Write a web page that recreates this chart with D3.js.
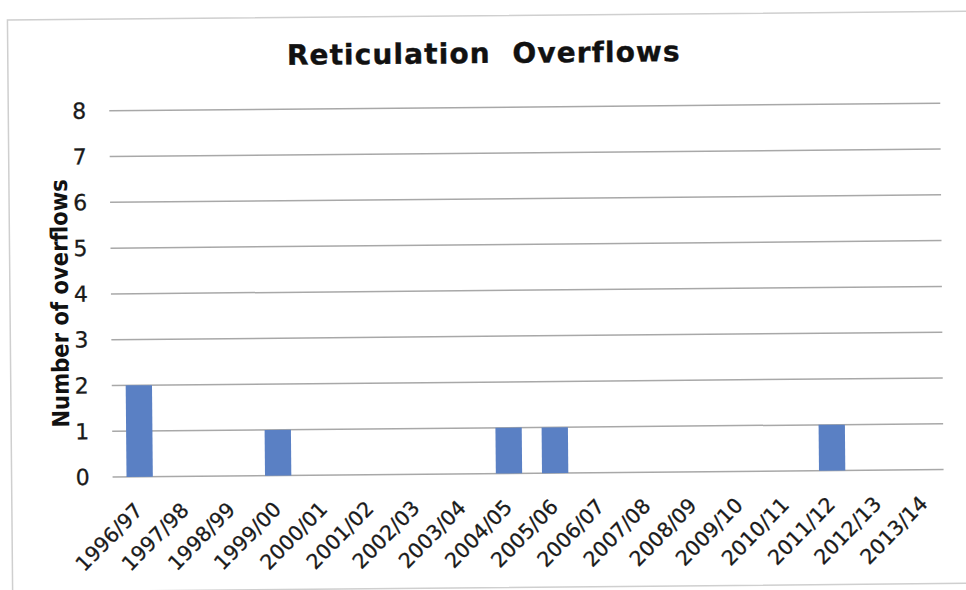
<!DOCTYPE html>
<html>
<head>
<meta charset="utf-8">
<script src="https://cdn.jsdelivr.net/npm/d3@7"></script>
<style>
  html, body { margin: 0; padding: 0; background: #fff; }
  svg { display: block; }
</style>
</head>
<body>
<svg id="chart" width="966" height="590"></svg>
<script>
// Financial years and the number of reticulation overflows recorded in each
const years = ["1996/97","1997/98","1998/99","1999/00","2000/01","2001/02","2002/03","2003/04",
  "2004/05","2005/06","2006/07","2007/08","2008/09","2009/10","2010/11","2011/12","2012/13","2013/14"];
const overflows = [2,0,0,1,0,0,0,0,1,1,0,0,0,0,0,1,0,0];
const yTicks = [0,1,2,3,4,5,6,7,8];

const FONT = "DejaVu Sans, Verdana, sans-serif";
const plot = {left: 115, right: 946, gridLeft: 111, gridRight: 942, top: 107.4, bottom: 473.7};

const svg = d3.select("#chart");
// the whole sheet sits turned a fraction of a degree
const g = svg.append("g").attr("transform", "rotate(-0.52 483 300)");

// chart frame
g.append("rect")
  .attr("x", 10).attr("y", 15.7)
  .attr("width", 1000).attr("height", 572)
  .attr("fill", "none").attr("stroke", "#cfcfcf").attr("stroke-width", 1.5);

const x = d3.scaleBand().domain(years)
  .range([plot.left, plot.right]).paddingInner(0.43).paddingOuter(0.215);
const y = d3.scaleLinear().domain([0, 8]).range([plot.bottom, plot.top]);

// horizontal gridlines
g.append("g").selectAll("line").data(yTicks).join("line")
  .attr("x1", plot.gridLeft).attr("x2", plot.gridRight)
  .attr("y1", d => y(d)).attr("y2", d => y(d))
  .attr("stroke", "#a8a8a8").attr("stroke-width", 1.5);

// bars
g.append("g").selectAll("rect").data(years).join("rect")
  .attr("x", d => x(d))
  .attr("width", x.bandwidth())
  .attr("y", (d, i) => y(overflows[i]))
  .attr("height", (d, i) => y(0) - y(overflows[i]))
  .attr("fill", "#5a80c4");

// y axis
const yAxis = g.append("g")
  .attr("transform", `translate(${plot.left},0)`)
  .call(d3.axisLeft(y).tickValues(yTicks).tickFormat(d3.format("d")).tickSize(0).tickPadding(27));
yAxis.select(".domain").remove();
yAxis.selectAll("text")
  .attr("font-family", FONT)
  .attr("font-size", 22).attr("fill", "#1a1a1a")
  .attr("stroke", "#1a1a1a").attr("stroke-width", 0.3);

// x axis, labels slanted up to the right
const xAxis = g.append("g")
  .attr("transform", `translate(0,${y(0)})`)
  .call(d3.axisBottom(x).tickSize(0));
xAxis.select(".domain").remove();
xAxis.selectAll("text")
  .attr("font-family", FONT)
  .attr("font-size", 20.5).attr("fill", "#1a1a1a")
  .attr("stroke", "#1a1a1a").attr("stroke-width", 0.3)
  .attr("text-anchor", "end")
  .attr("x", 0).attr("y", 0).attr("dy", 0)
  .attr("transform", "translate(4,35) rotate(-45)");

// title
g.append("text")
  .attr("x", 486).attr("y", 63)
  .attr("text-anchor", "middle")
  .attr("font-family", FONT)
  .attr("font-weight", "bold").attr("font-size", 28).attr("fill", "#111")
  .attr("stroke", "#111").attr("stroke-width", 0.4)
  .attr("letter-spacing", 1.1)
  .text("Reticulation\u00a0 Overflows");

// y axis title
g.append("text")
  .attr("transform", `translate(68,${(y(0) + y(8)) / 2 + 9}) rotate(-90)`)
  .attr("text-anchor", "middle")
  .attr("font-family", "DejaVu Sans Condensed, DejaVu Sans, sans-serif")
  .attr("font-weight", "bold").attr("font-size", 23.5).attr("fill", "#111")
  .text("Number of overflows");
</script>
</body>
</html>
